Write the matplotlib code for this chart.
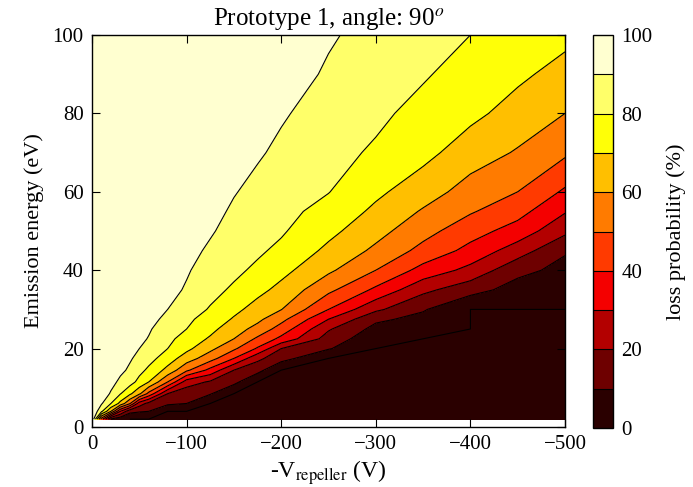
import numpy as np
import matplotlib
matplotlib.use("Agg")
import matplotlib.pyplot as plt

plt.rcParams["font.family"] = "serif"
plt.rcParams["font.serif"] = ["Liberation Serif", "DejaVu Serif"]
plt.rcParams["mathtext.fontset"] = "stix"

# Repeller voltage columns (V) and emission energy rows (eV)
v_repeller = [0, -10, -20, -30, -40, -50, -60, -80, -100, -125, -150, -175,
              -200, -250, -300, -350, -400, -450, -500]
emission_energy = [2, 4, 6, 8.5, 11.5, 14.5, 17.5, 20, 22.5, 25, 27.5, 30,
                   35, 40, 45, 50, 55, 60, 70, 80, 90, 100]

# Loss probability (%) along emission energy, one list per repeller voltage
p_0V = [100, 100, 100, 100, 100, 100, 100, 100, 100, 100, 100,
        100, 100, 100, 100, 100, 100, 100, 100, 100, 100, 100]
p_10V = [45, 82, 91, 95.5, 97.5, 99, 99, 99, 99, 99, 99,
         99, 99, 99, 99, 99, 99, 99, 99, 99, 99, 99]
p_20V = [9, 60, 80, 89, 93, 95, 97, 97, 98, 98, 99,
         99, 99, 99, 99, 99, 99, 99, 99, 99, 99, 99]
p_30V = [3, 30, 67, 80.5, 88, 92, 94, 95, 96, 97, 97.5,
         98, 99, 99, 99, 99, 99, 99, 99, 99, 99, 99]
p_40V = [0, 13, 51, 72, 84, 88.5, 91, 92.5, 94, 95, 96,
         97, 98, 99, 99, 99, 99, 99, 99, 99, 99, 99]
p_50V = [0, 11, 25, 62, 77, 83, 87.5, 90, 92, 93.5, 95,
         96, 97.5, 98.5, 99, 99, 99, 99, 99, 99, 99, 99]
p_60V = [0, 10, 17, 47, 70, 78, 83.5, 87, 89.5, 91, 92.5,
         94, 96, 97.5, 98.5, 99, 99, 99, 99, 99, 99, 99]
p_80V = [0, 0, 12, 20, 50, 67, 75, 80, 82.5, 85, 88,
         90, 93, 95, 97, 98, 99, 99, 99, 99, 99, 99]
p_100V = [0, 0, 10, 14, 25, 52, 65, 72.5, 76, 80, 82,
          84, 89, 91, 93, 95, 96, 97, 98, 99, 99, 99]
p_125V = [0, 0, 0, 10.8, 18.7, 36.9, 54.2, 62.5, 68.75, 72.7, 76,
          79.3, 82.6, 85.6, 88.5, 91, 92.5, 94, 96, 97.5, 98.5, 99]
p_150V = [0, 0, 0, 0, 12.9, 20, 40, 51.7, 60, 64.5, 69,
          72.5, 78.7, 81.9, 84.2, 86.5, 88.8, 90.5, 93, 95, 97, 98.5]
p_175V = [0, 0, 0, 0, 0, 13.6, 22.3, 38.8, 48.2, 56.7, 62.3,
          66.2, 72.8, 78.3, 81.4, 83.5, 85.5, 87.6, 91, 93.5, 95.5, 97]
p_200V = [0, 0, 0, 0, 0, 0, 14, 20, 37.5, 45.7, 53,
          60.3, 67.2, 73, 78, 81.1, 82.9, 84.6, 88.2, 91, 94, 96]
p_250V = [0, 0, 0, 0, 0, 0, 0, 10.8, 15.7, 21.1, 30,
          40, 52.4, 61.8, 67.8, 72.6, 76.7, 80.3, 83.1, 86, 88.9, 91]
p_300V = [0, 0, 0, 0, 0, 0, 0, 0, 3.5, 7, 12,
          22, 38, 50, 58, 63.4, 68, 72, 78.7, 82, 84.5, 87]
p_350V = [0, 0, 0, 0, 0, 0, 0, 0, 0, 3.5, 7,
          11, 22.5, 36.5, 47, 53.5, 59, 64.5, 73, 77, 81, 83]
p_400V = [0, 0, 0, 0, 0, 0, 0, 0, 0, 0, 0,
          0, 14, 27, 37, 44, 51, 56, 64.8, 72.5, 76, 80]
p_450V = [0, 0, 0, 0, 0, 0, 0, 0, 0, 0, 0,
          0, 5.8, 12.9, 25, 35.9, 43.5, 50, 59.1, 66, 72, 75]
p_500V = [0, 0, 0, 0, 0, 0, 0, 0, 0, 0, 0,
          0, 3.6, 7.1, 11, 22.4, 30.8, 38.5, 51.7, 60, 66.4, 72.7]

levels = [0, 10, 20, 30, 40, 50, 60, 70, 80, 90, 100]
x_ticks = [0, -100, -200, -300, -400, -500]
y_ticks = [0, 20, 40, 60, 80, 100]
cbar_ticks = [0, 20, 40, 60, 80, 100]

loss = np.column_stack([p_0V, p_10V, p_20V, p_30V, p_40V, p_50V, p_60V,
                        p_80V, p_100V, p_125V, p_150V, p_175V, p_200V,
                        p_250V, p_300V, p_350V, p_400V, p_450V, p_500V])
V, E = np.meshgrid(v_repeller, emission_energy)

W, H = 693, 487
fig = plt.figure(figsize=(W / 100, H / 100), dpi=100)
ax = fig.add_axes([92 / W, 60 / H, 473 / W, 392 / H])
cax = fig.add_axes([593 / W, 59 / H, 20 / W, 393 / H])

filled = ax.contourf(V, E, loss, levels=levels, cmap="hot")
ax.contour(V, E, loss, levels=levels, colors="k", linewidths=0.8)

ax.set_xlim(0, -500)
ax.set_ylim(0, 100)
ax.set_xticks(x_ticks)
ax.set_yticks(y_ticks)
ax.tick_params(direction="in", top=True, right=True, length=6, width=0.8,
               labelsize=15, pad=6)
for s in ax.spines.values():
    s.set_linewidth(1.0)

ax.set_title("Prototype 1, angle: 90$^o$", fontsize=18, pad=7)
ax.set_xlabel("-V$_{\\mathrm{repeller}}$ (V)", fontsize=17, labelpad=3)
ax.set_ylabel("Emission energy (eV)", fontsize=16, labelpad=6)

cb = fig.colorbar(filled, cax=cax, ticks=cbar_ticks, drawedges=True)
cb.outline.set_linewidth(1.0)
cb.dividers.set_linewidth(0.8)
cb.ax.tick_params(length=0, labelsize=15, pad=6)
cb.set_label("loss probability (%)", fontsize=16, labelpad=10)

fig.savefig("out.png", dpi=100)
